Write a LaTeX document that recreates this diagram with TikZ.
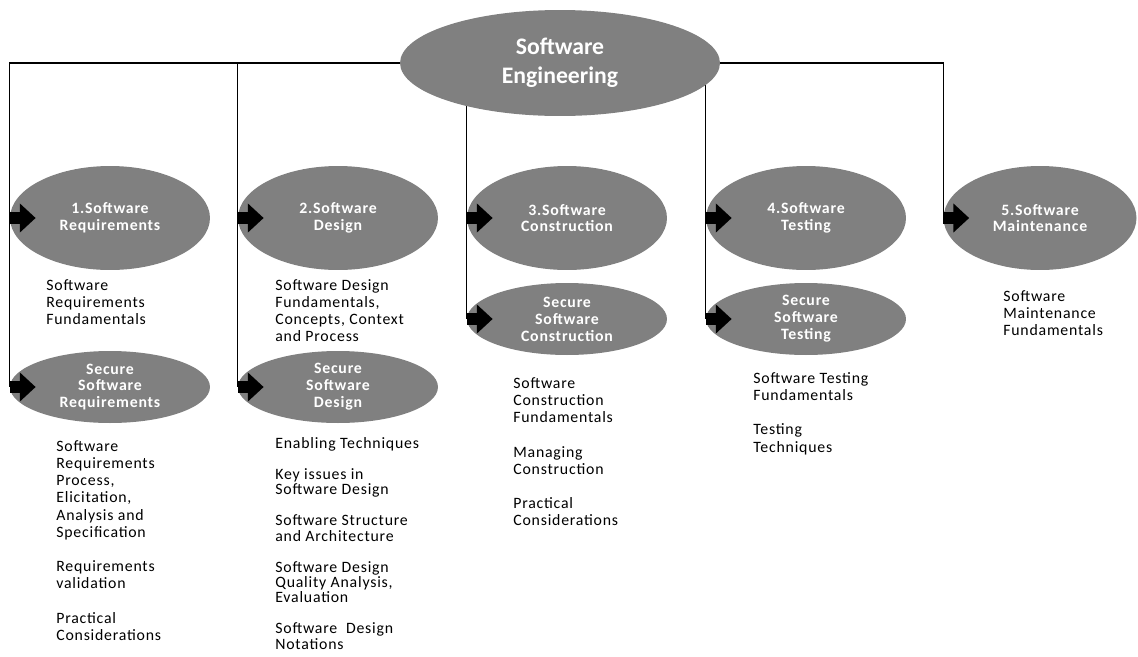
\documentclass[tikz,border=0pt]{standalone}
\usepackage{fontspec}
\setmainfont{Carlito}[LetterSpace=5]
\newfontfamily\headfont{Carlito}
\usetikzlibrary{shapes.geometric,arrows.meta,backgrounds}

\tikzset{
  area/.style={ellipse,fill=gray,inner sep=0pt,minimum width=4cm,minimum height=2.08cm,
    text=white,align=center,font=\fontsize{9}{9.6}\selectfont\bfseries},
  subarea/.style={area,minimum height=1.44cm},
  topic/.style={anchor=north west,inner sep=0pt,align=left,font=\fontsize{9}{9.8}\selectfont},
  link/.style={line width=0.6pt},
  feed/.style={line width=6.5pt,-{Triangle[length=9pt,width=16pt]}}
}

\begin{document}
\begin{tikzpicture}[x=0.02cm,y=-0.02cm]
    \useasboundingbox (0,0) rectangle (1138,656);

    \node[area,minimum width=6.4cm,minimum height=2.12cm,font=\headfont\fontsize{13.5}{16.4}\selectfont\bfseries] (se) at (560,63) {Software\\Engineering};

    \node[area] (req) at (110,218) {1.Software\\Requirements};
    \node[area] (des) at (338,218) {2.Software\\Design};
    \node[area] (con) at (567,218) {3.Software\\Construction};
    \node[area] (tst) at (806,218) {4.Software\\Testing};
    \node[area,minimum width=3.86cm] (mnt) at (1040,218) {5.Software\\Maintenance};

    \node[subarea] (sreq) at (110,387) {Secure\\Software\\Requirements};
    \node[subarea] (sdes) at (338,387) {Secure\\Software\\Design};
    \node[subarea] (scon) at (567,319) {Secure\\Software\\Construction};
    \node[subarea] (stst) at (806,319) {Secure\\Software\\Testing};

    \node[topic] (reqtxt) at (46,279) {Software\\Requirements\\Fundamentals};
    \node[topic] (destxt) at (275,279) {Software Design\\Fundamentals,\\Concepts, Context\\and Process};
    \node[topic] (mnttxt) at (1003,290) {Software\\Maintenance\\Fundamentals};
    \node[topic] (sreqtxt) at (56,440) {Software\\Requirements\\Process,\\Elicitation,\\Analysis and\\Specification\\[9.8pt]Requirements\\validation\\[9.8pt]Practical\\Considerations};
    \node[topic,font=\fontsize{9}{8.8}\selectfont] (sdestxt) at (275,437) {Enabling Techniques\\[8.8pt]Key issues in\\Software Design\\[8.8pt]Software Structure\\and Architecture\\[8.8pt]Software Design\\Quality Analysis,\\Evaluation\\[8.8pt]Software\ \ Design\\Notations};
    \node[topic] (scontxt) at (513,377) {Software\\Construction\\Fundamentals\\[9.8pt]Managing\\Construction\\[9.8pt]Practical\\Considerations};
    \node[topic] (ststtxt) at (753,372) {Software Testing\\Fundamentals\\[9.8pt]Testing\\Techniques};

    \begin{scope}[on background layer]
        \draw[link] (se.west) -| (sreq.west);
        \draw[link] (sdes.west |- se.west) -- (sdes.west);
        \draw[link] (scon.west |- se.center) -- (scon.west);
        \draw[link] (stst.west |- se.center) -- (stst.west);
        \draw[link] (se.east) -| (mnt.west);
    \end{scope}

    \foreach \n in {req,des,con,tst,mnt,sreq,sdes,scon,stst}
        \draw[feed] (\n.west) -- ++(26,0);
\end{tikzpicture}
\end{document}
